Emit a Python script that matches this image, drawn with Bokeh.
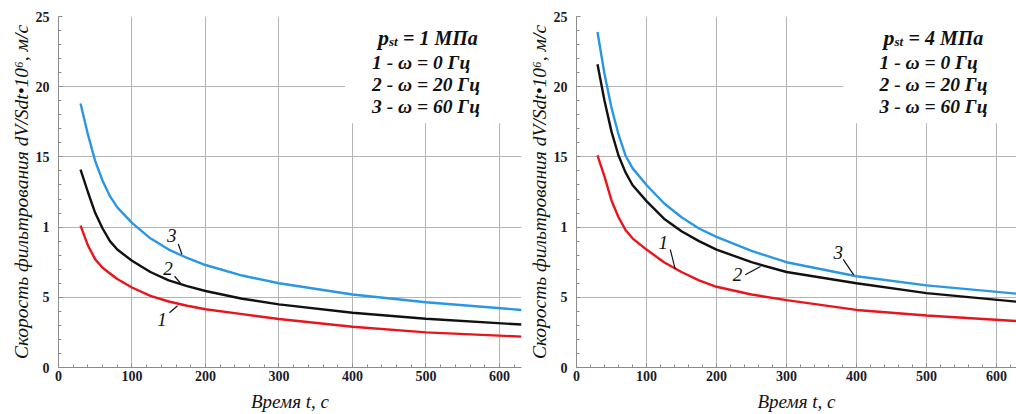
from bokeh.plotting import figure
from bokeh.layouts import row
from bokeh.models import FixedTicker, Label, Range1d
from bokeh.embed import file_html
from bokeh.resources import INLINE

# ---- data ----
t_left = [30, 40, 50, 60, 70, 80, 100, 125, 150, 175, 200, 250, 300, 400, 500, 630]
left_w0 = [10.1, 8.7, 7.7, 7.1, 6.7, 6.3, 5.7, 5.1, 4.7, 4.4, 4.15, 3.8, 3.45, 2.9, 2.5, 2.2]
left_w20 = [14.1, 12.5, 11.0, 9.9, 9.0, 8.4, 7.6, 6.8, 6.2, 5.8, 5.45, 4.9, 4.5, 3.9, 3.47, 3.06]
left_w60 = [18.8, 16.6, 14.7, 13.3, 12.2, 11.4, 10.3, 9.2, 8.4, 7.8, 7.3, 6.55, 6.0, 5.2, 4.65, 4.1]

t_right = [30, 40, 50, 60, 70, 80, 100, 125, 150, 175, 200, 250, 300, 400, 500, 630]
right_w0 = [15.1, 13.6, 11.9, 10.7, 9.8, 9.2, 8.4, 7.5, 6.8, 6.2, 5.75, 5.2, 4.8, 4.1, 3.7, 3.3]
right_w20 = [21.6, 19.0, 16.8, 15.1, 13.9, 13.0, 11.85, 10.6, 9.7, 9.0, 8.4, 7.5, 6.8, 6.0, 5.3, 4.68]
right_w60 = [23.9, 20.9, 18.5, 16.6, 15.1, 14.2, 13.0, 11.7, 10.7, 9.9, 9.3, 8.3, 7.5, 6.5, 5.85, 5.25]

x_ticks = [0, 100, 200, 300, 400, 500, 600]
y_ticks = [0, 5, 10, 15, 20, 25]
y_tick_labels = {0: "0", 5: "5", 10: "1", 15: "15", 20: "20", 25: "25"}
legend_rows = ["1 - \u03c9 = 0 \u0413\u0446", "2 - \u03c9 = 20 \u0413\u0446", "3 - \u03c9 = 60 \u0413\u0446"]
pressures = ["= 1 \u041c\u041f\u0430", "= 4 \u041c\u041f\u0430"]
y_title = "\u0421\u043a\u043e\u0440\u043e\u0441\u0442\u044c \u0444\u0438\u043b\u044c\u0442\u0440\u043e\u0432\u0430\u043d\u0438\u044f dV/Sdt\u202210\u2076, \u043c/\u0441"
x_title = "\u0412\u0440\u0435\u043c\u044f t, \u0441"

SERIF = "Liberation Serif"
BLUE = "#2a96e6"
RED = "#e8161c"
BLACK = "#111111"
GRID = "#b4b4b4"
AXIS = "#8c8c8c"
TICKTXT = "#1b1b2a"


def make_panel(width, border_left, border_right, x_end, t, w0, w20, w60,
               box_left, legend_x, p_x, pressure, curve_labels):
    p = figure(width=width, height=414, x_range=Range1d(0, x_end), y_range=Range1d(0, 25),
               output_backend="svg", toolbar_location=None,
               min_border_left=border_left, min_border_right=border_right,
               min_border_top=16, min_border_bottom=47)
    p.outline_line_color = None
    p.background_fill_color = "white"

    # axes
    p.xaxis.ticker = FixedTicker(ticks=x_ticks, minor_ticks=list(range(0, 641, 20)))
    p.yaxis.ticker = FixedTicker(ticks=y_ticks, minor_ticks=list(range(0, 26)))
    p.yaxis.major_label_overrides = y_tick_labels
    for ax in (p.xaxis, p.yaxis):
        ax.axis_line_color = AXIS
        ax.axis_line_width = 1
        ax.major_tick_line_color = AXIS
        ax.minor_tick_line_color = AXIS
        ax.major_tick_in = 4
        ax.major_tick_out = 0
        ax.minor_tick_in = 3
        ax.minor_tick_out = 0
        ax.major_label_text_font = SERIF
        ax.major_label_text_font_style = "bold"
        ax.major_label_text_font_size = "14px"
        ax.major_label_text_color = TICKTXT
        ax.axis_label_text_font = SERIF
        ax.axis_label_text_font_style = "italic"
        ax.axis_label_text_color = "#111111"
    p.yaxis.major_label_standoff = 9
    p.xaxis.major_label_standoff = 3
    p.yaxis.axis_label = y_title
    p.yaxis.axis_label_text_font_size = "19.5px"
    p.yaxis.axis_label_standoff = 1
    p.xaxis.axis_label = x_title
    p.xaxis.axis_label_text_font_size = "19px"
    p.xaxis.axis_label_standoff = 7

    p.xgrid.ticker = FixedTicker(ticks=x_ticks)
    p.ygrid.ticker = FixedTicker(ticks=y_ticks)
    p.grid.grid_line_color = GRID
    p.grid.grid_line_width = 1

    # white box behind legend text
    p.quad(left=[box_left], right=[700], bottom=[17.4], top=[27],
           fill_color="white", line_color=None)

    # curves
    p.line(t, w0, line_color=RED, line_width=2.4)
    p.line(t, w20, line_color=BLACK, line_width=2.4)
    p.line(t, w60, line_color=BLUE, line_width=2.4)

    # curve number labels with leader lines
    for txt, (tx, ty), (x0, y0, x1, y1) in curve_labels:
        p.segment(x0=[x0], y0=[y0], x1=[x1], y1=[y1], line_color="#111111", line_width=1.2)
        p.add_layout(Label(x=tx, y=ty, text=txt, text_font=SERIF, text_font_style="italic",
                           text_font_size="19px", text_align="center", text_baseline="middle",
                           text_color="#111111"))

    # legend text
    for i, rtxt in enumerate(legend_rows):
        p.add_layout(Label(x=legend_x, y=[21.72, 20.16, 18.59][i], text=rtxt, text_font=SERIF,
                           text_font_style="bold italic", text_font_size="19.5px",
                           text_align="left", text_baseline="middle", text_color="#111111"))
    p.add_layout(Label(x=p_x, y=23.5, text="p", text_font=SERIF, text_font_style="bold italic",
                       text_font_size="22px", text_align="left", text_baseline="alphabetic",
                       text_color="#111111"))
    p.add_layout(Label(x=p_x, y=23.5, x_offset=11, y_offset=-4, text="st", text_font=SERIF,
                       text_font_style="bold italic", text_font_size="13px", text_align="left",
                       text_baseline="alphabetic", text_color="#111111"))
    p.add_layout(Label(x=p_x, y=23.5, x_offset=25, text=pressure, text_font=SERIF,
                       text_font_style="bold italic", text_font_size="20px", text_align="left",
                       text_baseline="alphabetic", text_color="#111111"))
    return p


left_labels = [
    ("3", (154, 9.4), (163, 8.8, 168, 8.05)),
    ("2", (149, 7.05), (158, 6.5, 166, 6.0)),
    ("1", (141, 3.4), (151, 3.9, 162, 4.4)),
]
right_labels = [
    ("1", (124, 8.9), (134, 8.4, 141, 7.0)),
    ("2", (230, 6.6), (241, 6.6, 263, 7.2)),
    ("3", (374, 8.2), (381, 7.7, 396, 6.6)),
]

p1 = make_panel(522, 58, 1, 630, t_left, left_w0, left_w20, left_w60,
                box_left=390, legend_x=426.6, p_x=434.8, pressure=pressures[0],
                curve_labels=left_labels)
p2 = make_panel(494, 54, 0, 628.6, t_right, right_w0, right_w20, right_w60,
                box_left=381, legend_x=432.9, p_x=438.6, pressure=pressures[1],
                curve_labels=right_labels)

layout = row(p1, p2, spacing=0)
open("out.html", "w").write(file_html(layout, INLINE))
